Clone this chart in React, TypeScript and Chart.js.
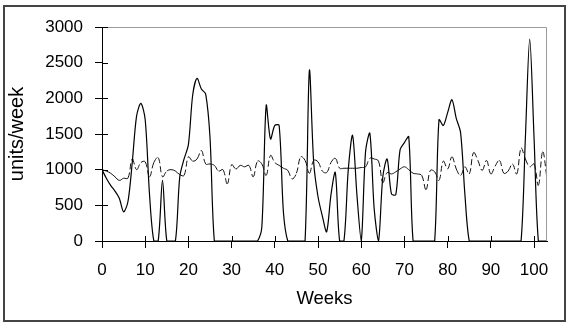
import React, { useEffect, useRef } from 'react';
import { Chart, registerables } from 'chart.js';

Chart.register(...registerables);

const weeks: number[] = Array.from({ length: 104 }, (_, i) => i);

const orders: number[] = [
  1000, 880, 780, 700, 600, 410, 550, 1100, 1750, 1930,
  1700, 650, 0, 0, 850, 0, 0, 0, 900, 1150,
  1350, 2050, 2280, 2130, 2060, 1450, 0, 0, 0, 0,
  0, 0, 0, 0, 0, 0, 0, 200, 1900, 1430,
  1620, 1620, 400, 0, 0, 0, 0, 0, 2390, 1100,
  620, 350, 130, 650, 960, 0, 0, 1000, 1480, 650,
  0, 1250, 1510, 450, 0, 900, 1150, 660, 650, 1280,
  1380, 1460, 0, 0, 0, 0, 0, 0, 1700, 1620,
  1800, 1980, 1720, 1520, 650, 0, 0, 0, 0, 0,
  0, 0, 0, 0, 0, 0, 0, 0, 1450, 2830,
  1450, 0, 0, 0,
];

const demand: number[] = [
  1000, 980, 950, 900, 850, 880, 880, 1150, 1000, 1100,
  1110, 900, 1100, 1170, 900, 980, 1000, 980, 930, 920,
  1180, 1120, 1150, 1270, 1080, 1080, 1060, 980, 1000, 800,
  1070, 1010, 1060, 1040, 1060, 900, 1120, 1080, 920, 1200,
  1100, 1060, 1020, 990, 870, 950, 1180, 1130, 950, 1130,
  1110, 980, 960, 1100, 1160, 1020, 1020, 1020, 1020, 1020,
  1030, 1040, 1160, 1150, 1120, 820, 960, 940, 970, 1010,
  1040, 1000, 950, 940, 920, 720, 990, 970, 850, 1120,
  1010, 1180, 1010, 920, 1040, 940, 1240, 1130, 990, 1130,
  940, 1050, 1130, 950, 980, 1080, 940, 1300, 1150, 1040,
  1080, 780, 1250, 880,
];

const xTicks: number[] = [0, 10, 20, 30, 40, 50, 60, 70, 80, 90, 100];
const yTicks: number[] = [0, 500, 1000, 1500, 2000, 2500, 3000];
const xTitle = 'Weeks';
const yTitle = 'units/week';

const FONT = "'Liberation Sans', Arial, Helvetica, sans-serif";

const framePlugin = {
  id: 'frame',
  afterDraw(chart: any) {
    const { ctx, chartArea, scales } = chart;
    const { left, right, top, bottom } = chartArea;
    ctx.save();
    ctx.lineWidth = 1;
    ctx.strokeStyle = '#9a9a9a';
    ctx.beginPath();
    ctx.moveTo(left, top + 0.5);
    ctx.lineTo(right - 0.5, top + 0.5);
    ctx.lineTo(right - 0.5, bottom);
    ctx.stroke();
    ctx.strokeStyle = '#000';
    ctx.beginPath();
    for (const v of yTicks) {
      const py = Math.round(scales.y.getPixelForValue(v)) + 0.5;
      ctx.moveTo(left, py);
      ctx.lineTo(left + 6, py);
    }
    for (const v of xTicks) {
      const px = Math.round(scales.x.getPixelForValue(v)) + 0.5;
      ctx.moveTo(px, bottom);
      ctx.lineTo(px, bottom - 5);
    }
    ctx.stroke();
    ctx.restore();
  },
};

export default function App() {
  const ref = useRef<HTMLCanvasElement | null>(null);

  useEffect(() => {
    if (!ref.current) return;
    const chart = new Chart(ref.current, {
      type: 'line',
      data: {
        labels: weeks,
        datasets: [
          {
            label: 'demand',
            data: demand,
            borderColor: '#111',
            borderWidth: 1,
            borderDash: [6, 3],
            pointRadius: 0,
            tension: 0.4,
            fill: false,
            segment: {
              borderDashOffset: (c: any) => (c.p0DataIndex % 2 ? 0.001 : 0),
            },
          },
          {
            label: 'orders',
            data: orders,
            borderColor: '#000',
            borderWidth: 1.2,
            pointRadius: 0,
            tension: 0.3,
            fill: false,
          },
        ],
      },
      options: {
        animation: false,
        responsive: false,
        maintainAspectRatio: false,
        events: [],
        layout: { padding: { left: 0, right: 23, top: 27, bottom: 0 } },
        plugins: { legend: { display: false }, tooltip: { enabled: false } },
        scales: {
          x: {
            type: 'linear',
            min: 0,
            max: 103,
            afterBuildTicks: (s: any) => {
              s.ticks = xTicks.map((v) => ({ value: v }));
            },
            afterFit: (s: any) => {
              s.height = 84;
            },
            grid: { drawOnChartArea: false, drawTicks: true, tickLength: 7, color: '#000' },
            border: { display: true, color: '#000', width: 1 },
            ticks: {
              color: '#000',
              padding: 12,
              maxRotation: 0,
              autoSkip: false,
              font: { family: FONT, size: 17 },
              callback: (v: any) => String(v),
            },
            title: {
              display: true,
              text: xTitle,
              color: '#000',
              font: { family: FONT, size: 18.5 },
              padding: { top: 0, bottom: 15 },
            },
          },
          y: {
            type: 'linear',
            min: 0,
            max: 3000,
            afterBuildTicks: (s: any) => {
              s.ticks = yTicks.map((v) => ({ value: v }));
            },
            afterFit: (s: any) => {
              s.width = 102;
            },
            grid: { drawOnChartArea: false, drawTicks: true, tickLength: 7, color: '#000' },
            border: { display: true, color: '#000', width: 1 },
            ticks: {
              color: '#000',
              padding: 12,
              font: { family: FONT, size: 17 },
              callback: (v: any) => String(v),
            },
            title: {
              display: true,
              text: yTitle,
              color: '#000',
              font: { family: FONT, size: 20 },
              padding: { top: 5, bottom: 0 },
            },
          },
        },
      },
      plugins: [framePlugin],
    });
    return () => chart.destroy();
  }, []);

  return (
    <div style={{ position: 'absolute', left: 0, top: 0, width: 570, height: 325, background: '#fff' }}>
      <div
        style={{
          position: 'absolute',
          left: 3,
          top: 5,
          width: 563,
          height: 317,
          boxSizing: 'border-box',
          border: '2px solid #444',
        }}
      />
      <canvas
        ref={ref}
        width={570}
        height={325}
        style={{ position: 'absolute', left: 0, top: 0, width: 570, height: 325 }}
      />
    </div>
  );
}
